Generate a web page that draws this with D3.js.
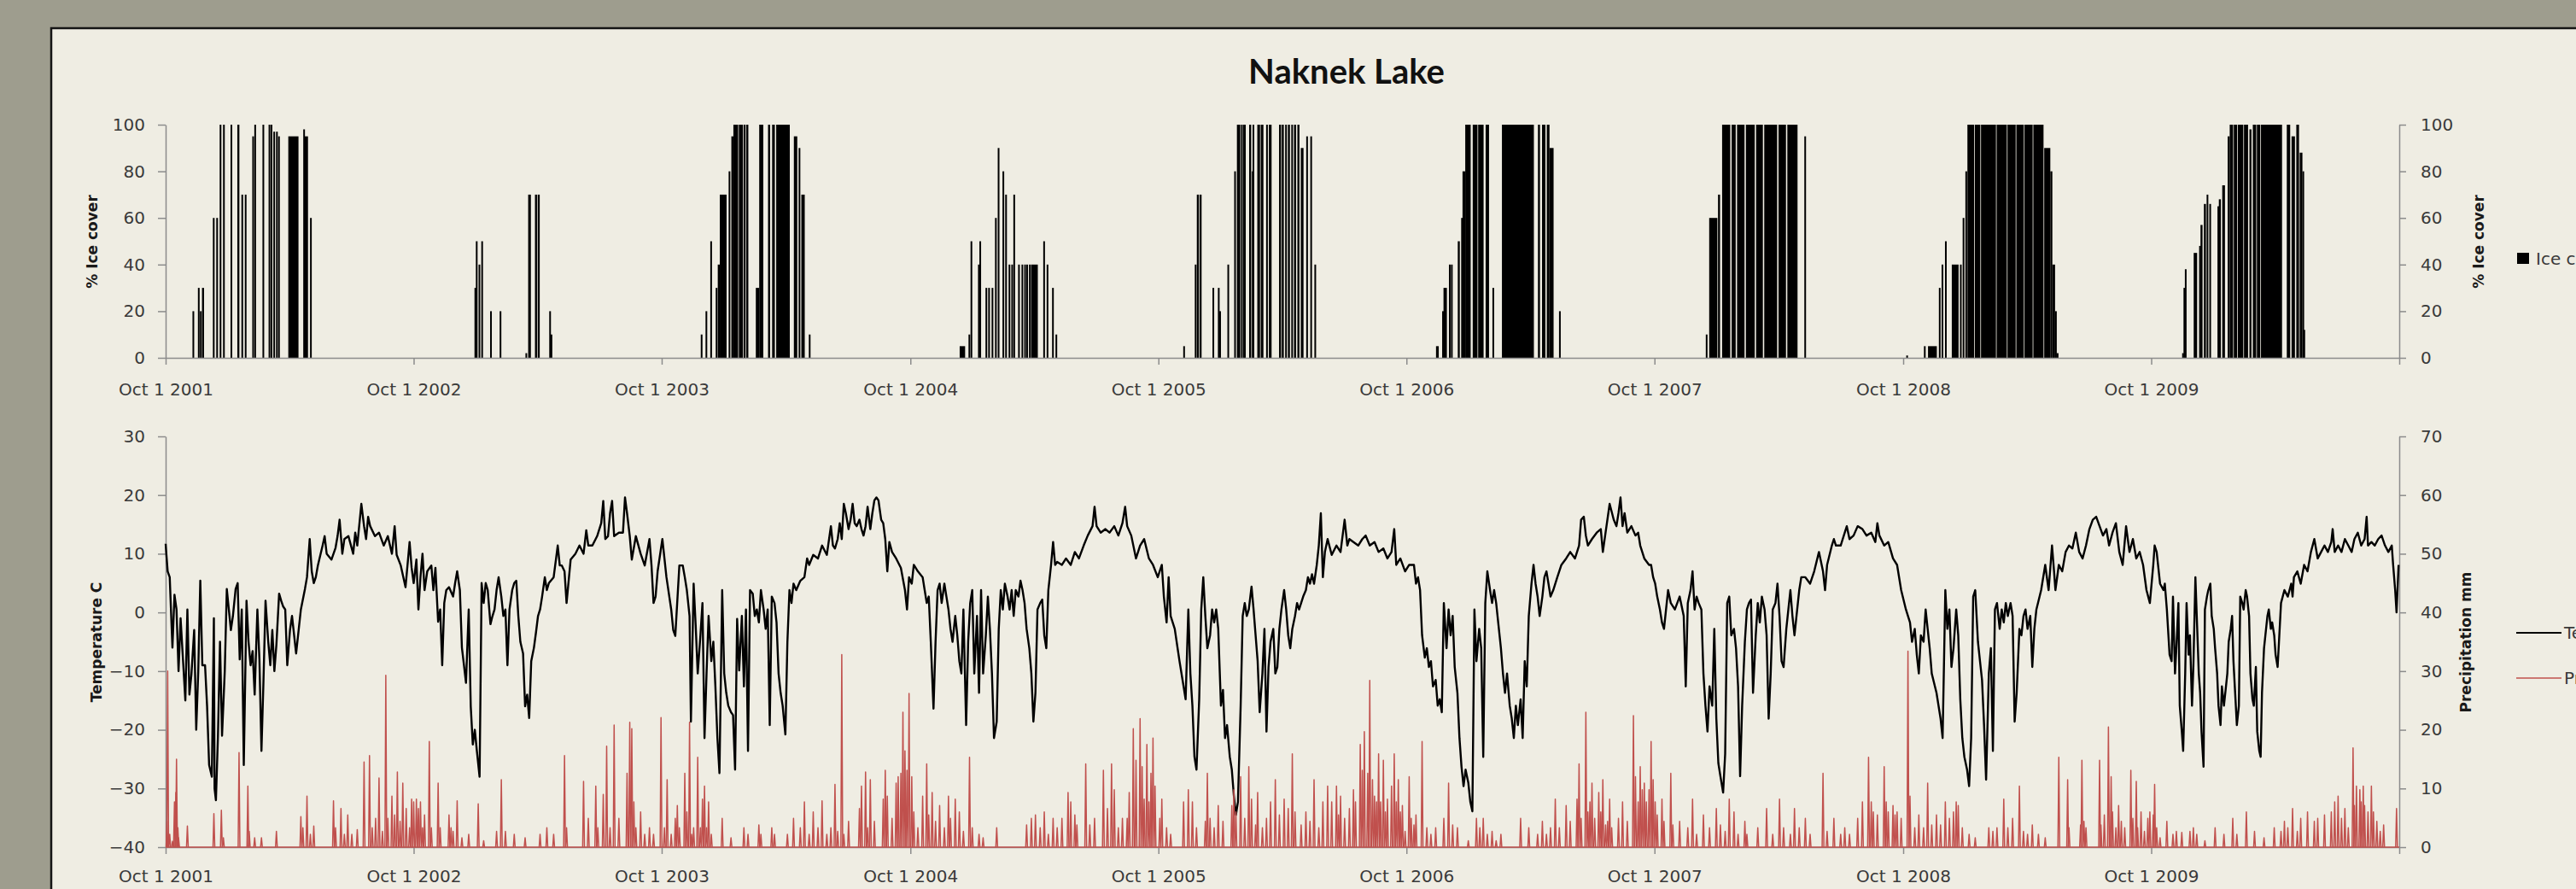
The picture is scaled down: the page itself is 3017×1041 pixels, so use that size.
<!DOCTYPE html>
<html>
<head>
<meta charset="utf-8">
<script src="https://cdn.jsdelivr.net/npm/d3@7"></script>
<style>
    html, body { margin: 0; padding: 0; background: #9e9d8e; overflow: hidden; }
    svg { display: block; }
</style>
</head>
<body>
<svg id="chart"></svg>
<script>
// tick values
var yearTicks = [2001, 2002, 2003, 2004, 2005, 2006, 2007, 2008, 2009, 2010];
var iceTicks = [0, 20, 40, 60, 80, 100];
var tempTicks = [-40, -30, -20, -10, 0, 10, 20, 30];
var precipTicks = [0, 10, 20, 30, 40, 50, 60, 70];

// ice cover runs: [first day after Oct 1 2001, number of days, % ice cover]
var iceRuns = [
    [40,1,20],[48,1,30],[51,1,20],[54,3,30],[70,1,60],[75,1,60],[80,1,100],[85,1,100],[96,1,100],[106,3,100],[112,1,70],[117,1,70],
    [128,1,95],[131,1,100],[143,1,100],[152,2,100],[155,2,100],[159,2,97],[163,1,97],[166,1,95],[181,15,95],[203,1,98],[205,5,95],[213,1,60],
    [455,1,30],[457,1,50],[461,1,40],[465,1,50],[478,1,20],[492,1,20],[530,1,2],[534,4,70],[544,3,70],[548,3,70],[565,1,20],[567,1,10],
    [788,1,10],[795,1,20],[802,1,50],[810,1,30],[813,3,40],[816,10,70],[829,1,80],[833,3,95],[836,7,100],[844,6,100],[851,3,100],[855,3,100],
    [869,5,30],[874,6,100],[887,3,100],[893,4,100],[899,20,100],[925,5,95],[932,1,90],[936,5,70],[947,1,10],
    [1169,8,5],[1182,1,10],[1185,1,50],[1196,1,40],[1198,1,50],[1207,1,30],[1211,1,30],[1216,1,30],[1221,1,60],[1225,1,90],[1232,1,80],
    [1236,1,70],[1241,1,40],[1245,1,40],[1248,1,70],[1255,1,40],[1260,1,40],[1264,1,40],[1267,1,40],[1271,1,40],[1274,10,40],[1292,1,50],
    [1297,1,40],[1305,1,30],[1310,1,10],
    [1498,1,5],[1515,1,40],[1518,3,70],[1522,3,70],[1541,1,30],[1549,1,30],[1551,1,20],[1563,1,40],[1573,1,80],[1577,5,100],[1583,2,100],
    [1586,4,100],[1595,3,100],[1599,1,80],[1600,2,100],[1607,4,100],[1612,4,100],[1620,2,100],[1624,4,100],[1639,3,100],[1643,3,100],
    [1648,2,100],[1652,3,100],[1657,2,100],[1661,3,100],[1666,3,100],[1671,4,90],[1679,1,95],[1685,1,95],[1691,1,40],
    [1870,4,5],[1879,1,20],[1881,5,30],[1889,1,40],[1892,1,40],[1902,3,50],[1907,1,60],[1909,4,80],[1913,8,100],[1924,7,100],[1932,8,100],
    [1943,5,100],[1953,1,30],[1967,47,100],[2020,3,100],[2026,5,100],[2033,4,100],[2037,6,90],[2051,1,20],
    [2267,1,10],[2272,12,60],[2285,3,70],[2291,12,100],[2305,6,100],[2313,11,100],[2326,13,100],[2341,10,100],[2353,19,100],[2374,11,100],
    [2387,15,100],[2412,1,95],
    [2562,1,1],[2588,1,5],[2594,13,5],[2610,1,30],[2614,1,40],[2619,1,50],[2629,10,40],[2641,1,40],[2645,1,60],[2649,1,80],[2652,10,100],
    [2663,8,100],[2672,22,100],[2695,15,100],[2711,12,100],[2724,11,100],[2736,12,100],[2749,15,100],[2765,9,90],[2774,3,80],[2777,4,40],
    [2781,2,20],[2783,3,2],
    [2968,2,2],[2970,1,30],[2972,1,38],[2985,5,45],[2993,1,48],[2995,3,57],[3000,3,66],[3004,1,70],[3008,1,66],[3020,1,65],[3022,3,68],
    [3027,4,74],[3035,3,95],[3038,5,100],[3044,5,100],[3050,8,100],[3059,6,100],[3067,3,98],[3072,5,100],[3078,5,100],[3084,31,100],
    [3122,5,100],[3129,5,95],[3136,4,100],[3141,4,88],[3145,1,80],[3146,3,12]
];

// air temperature: [day after Oct 1 2001, deg C]
var temperature = [
    [0,11.7],[1,10],[3,7],[6,6],[10,-6],[13,3],[16,0.5],[19,-10],[22,-1],[26,-9],[29,-15],[32,0.5],[35,-14],[38,-10.5],[42,-3],[45,-20],
    [48,-10],[51,5.4],[54,-9],[58,-9],[61,-16],[64,-26],[68,-28],[71,-1],[72,-30],[74,-32],[77,-21],[80,-5],[83,-21],[87,-10],[90,4],
    [93,0.5],[96,-3],[99,-0.6],[103,4],[106,5],[109,-8],[112,0.5],[115,-26],[119,2],[122,-5],[125,-9],[128,-6.6],[131,-14],[135,0.5],
    [138,-8],[141,-23.6],[144,-11.5],[147,2],[151,-5],[154,-9],[157,-3],[160,-10],[163,-5.5],[167,3.2],[170,2],[173,1],[176,0.5],[179,-9],
    [183,-3],[186,-0.6],[192,-7],[199,0.5],[205,4],[208,6],[212,12.5],[215,7],[218,5],[221,6],[224,8],[231,11.4],[234,13],[237,10],
    [244,9],[250,11],[253,13],[256,15.8],[260,10],[263,12.5],[269,13],[276,10],[279,13.6],[282,11.4],[288,18.5],[292,14.7],[295,12.5],
    [298,16.3],[301,14.7],[308,13],[314,13.6],[321,11.4],[327,13],[333,10],[337,14.7],[340,9.8],[346,8],[353,4.3],[359,12],[362,7.6],
    [365,5],[369,9],[372,0.5],[375,6],[378,10],[381,3.8],[385,7],[391,8],[394,3.8],[397,7.6],[401,-1.6],[404,0.5],[407,-9],[410,1.6],
    [413,3.8],[417,4.3],[423,2.7],[426,5],[429,7],[433,3.8],[436,-6],[439,-9],[442,-12],[446,0.5],[449,-16],[452,-22.5],[455,-20],
    [458,-23.6],[462,-28],[465,5],[468,1.6],[471,5],[474,3.8],[478,-2],[481,-0.6],[484,0.5],[487,3.8],[490,6],[494,2.7],[497,-0.6],
    [500,0.5],[503,-9],[506,0.5],[510,3.8],[513,5],[516,5.4],[519,-0.6],[522,-5],[526,-7],[529,-16],[532,-14],[535,-18],[538,-8.3],
    [542,-6],[545,-3.4],[548,-0.6],[551,0.5],[554,2.7],[558,6],[561,3.8],[564,5],[571,6],[577,11.4],[580,8],[583,8],[587,7],[590,1.6],
    [596,9],[603,10],[609,11.4],[615,10],[619,14],[622,11.4],[628,11.4],[635,13],[641,15.2],[644,19],[647,12.5],[651,13],[654,16.9],
    [657,19],[660,13],[667,13.6],[673,13.6],[676,19.6],[679,16.9],[683,13],[686,9],[692,13],[699,10],[705,8],[712,12.5],[715,8],[718,1.6],
    [721,2.7],[724,7],[731,12.5],[737,6],[744,0.5],[747,-3],[750,-4],[756,8],
    [761,8],[764,6],[767,3.8],[771,-0.6],[773,-18.6],[777,4.9],[780,-2.2],[783,-10.4],[787,-3.9],[790,1.6],[793,-21.4],[796,-10.4],
    [799,-0.6],[803,-8.3],[806,-5],[809,-12.6],[812,-21.4],[815,-27.4],[819,3.8],[822,-10.4],[825,-13.7],[828,-15.9],[832,-17],[835,-17.5],
    [838,-26.8],[841,-1.1],[844,-9.9],[848,-0.6],[851,-12.6],[854,0.5],[857,-23.6],[860,3.8],[864,3.2],[867,-0.6],[870,0.5],[873,-1.7],
    [876,3.8],[880,0.5],[883,-2.8],[886,0.5],[889,-19.2],[892,2.7],[896,1.6],[899,-1.7],[902,-10.4],[905,-13.7],[908,-15.9],[912,-20.8],
    [915,-5],[918,3.8],[921,1.6],[924,4.9],[928,3.8],[934,5.4],[940,6],[944,9.2],[947,8.1],[953,9.8],[960,9.2],[966,11.4],[973,9.8],
    [979,14.7],[982,11.4],[985,10.9],[989,12.5],[992,15.2],[995,12.5],[998,18.5],[1001,16.9],[1005,14.2],[1008,15.8],[1011,18.5],
    [1014,15.2],[1017,14.7],[1021,15.8],[1024,14.2],[1027,13.1],[1030,14.7],[1033,18],[1037,14.2],[1040,16.9],[1043,19.1],[1046,19.6],
    [1049,19.1],[1053,15.8],[1056,15.2],[1059,12.5],[1062,7],[1065,12],[1069,10.3],[1075,9.2],[1082,7.6],[1088,3.8],[1091,0.5],[1094,6],
    [1098,4.9],[1101,8.1],[1107,7],[1114,6],[1117,3.8],[1120,1.6],[1123,2.7],[1126,-5],[1130,-16.4],[1133,-5],[1136,3.8],[1139,4.9],
    [1142,1.6],[1146,4.9],[1149,2.7],[1152,0.5],[1155,-2.8],[1158,-5],[1162,-0.6],[1165,-3.9],[1168,-8.3],[1171,-10.4],[1174,0.5],
    [1178,-19.2],[1181,-5],[1184,1.6],[1187,3.8],[1190,-10.4],[1194,-0.6],[1197,-13.7],[1200,3.8],[1203,-10.4],[1207,-3.9],[1210,2.7],
    [1213,-2.8],[1216,-10.4],[1219,-21.4],[1223,-18.6],[1226,-2.8],[1229,3.8],[1232,0.5],[1235,4.9],[1239,2.7],[1242,0.5],[1245,3.8],
    [1248,-0.6],[1251,3.8],[1255,2.7],[1258,5.4],[1261,3.8],[1264,1.6],[1267,-2.8],[1271,-6.1],[1274,-10.4],[1277,-18.6],[1280,-13.7],
    [1283,0.5],[1287,1.6],[1290,2.2],[1293,-3.9],[1296,-6.1],[1299,3.8],[1303,8.1],[1306,12],[1309,8.1],[1312,8.6],[1319,8.1],[1325,9.2],
    [1332,8.1],[1338,10.3],[1344,9.2],[1351,11.4],[1357,13.1],[1364,14.7],[1367,18],[1370,14.7],[1376,13.6],[1383,14.2],[1389,13.6],
    [1396,14.7],[1402,13.1],[1408,15.2],[1412,18],[1415,14.7],[1421,13.1],[1428,9.2],[1434,11.4],[1440,12.5],[1447,9.2],[1453,8.1],
    [1460,6],[1466,8.1],[1469,2.7],[1473,-1.7],[1476,6],[1479,-0.6],[1485,-2.8],[1492,-8.3],[1498,-12.6],[1501,-14.8],[1505,0.5],
    [1508,-10.4],[1511,-15.9],[1514,-24.6],[1517,-26.8],[1521,-14.8],[1524,0.5],[1527,6],[1530,-0.6],[1533,-6.1],[1537,-3.9],[1540,0.5],
    [1543,-1.7],[1546,0.5],[1549,-2.8],[1553,-15.9],[1556,-13.2],[1559,-21.4],[1562,-19.2],[1566,-24.6],[1569,-26.8],[1572,-31.2],
    [1575,-34.5],[1578,-32.3],[1582,-15.9],[1585,-0.6],[1588,1.6],[1591,-0.6],[1594,0.5],[1598,4.4],[1601,0.5],[1604,-3.9],[1607,-8.3],
    [1610,-17],[1614,-10.4],[1617,-2.8],[1620,-20.3],[1623,-9.3],[1626,-5],[1630,-2.8],[1633,-10.4],[1636,-9.3],[1639,-2.8],[1642,0.5],
    [1646,3.8],[1649,0.5],[1652,-3.9],[1655,-6.1],[1658,-2.8],[1662,-0.6],[1665,1.6],[1668,0.5],[1671,1.6],[1674,2.7],[1678,3.8],[1681,6],
    [1684,4.9],[1687,6.5],[1690,4.9],[1694,8.1],[1697,11.4],[1700,16.9],[1703,6],[1706,10.3],[1710,12.5],[1716,9.8],[1723,11.4],
    [1729,10.3],[1735,15.8],[1739,11.4],[1742,12.5],[1748,12],[1755,11.4],[1761,12.5],
    [1766,13.1],[1772,11.4],[1779,12],[1785,10.3],[1792,10.9],[1798,9.2],[1804,10.3],[1808,14.2],[1811,8.1],[1817,9.2],[1824,7],[1830,8.1],
    [1837,8.1],[1840,4.9],[1843,6],[1846,3.8],[1849,-3.9],[1853,-7.7],[1856,-6.1],[1859,-9.3],[1862,-8.3],[1865,-12.6],[1869,-11.5],
    [1872,-15.9],[1875,-14.8],[1878,-17],[1881,1.6],[1885,-6.1],[1888,0.5],[1891,-3.9],[1894,-0.6],[1897,-9.3],[1901,-13.7],[1904,-21.4],
    [1907,-26.3],[1910,-29.6],[1913,-26.8],[1917,-29],[1920,-32.3],[1923,-33.9],[1926,0.5],[1929,-8.3],[1933,-2.8],[1936,-6.1],[1939,-24.6],
    [1942,1.6],[1945,7],[1949,3.8],[1952,1.6],[1955,3.8],[1958,1.6],[1962,-2.8],[1965,-6.1],[1968,-10.4],[1971,-13.7],[1974,-10.4],
    [1978,-15.9],[1981,-18.1],[1984,-21.4],[1987,-15.9],[1990,-19.2],[1994,-14.8],[1997,-21.4],[2000,-8.3],[2003,-12.6],[2006,-0.6],
    [2010,4.9],[2013,8.1],[2016,4.9],[2019,2.7],[2022,-0.6],[2026,2.7],[2029,6],[2032,7],[2035,4.9],[2038,2.7],[2042,3.8],[2048,6],[2054,8.1],
    [2061,9.2],[2067,10.3],[2074,9.2],[2080,11.4],[2083,15.8],[2087,16.3],[2090,13.1],[2093,11.4],[2099,12.5],[2106,13.6],[2112,14.2],
    [2115,10.3],[2119,13.6],[2125,18.5],[2131,15.8],[2135,14.7],[2138,16.9],[2141,19.6],[2144,14.7],[2147,16.9],[2151,13.6],[2157,14.7],
    [2163,13.1],[2167,13.6],[2170,11.4],[2176,9.2],[2183,8.1],[2186,8.1],[2189,6],[2192,4.9],[2195,2.7],[2199,0.5],[2202,-1.7],[2205,-2.8],
    [2208,0.5],[2211,3.8],[2215,1.6],[2221,0.5],[2228,2.7],[2234,-0.6],[2237,-12.6],[2240,1.6],[2244,3.8],[2247,7],[2250,0.5],[2253,2.7],
    [2256,1.6],[2260,0.5],[2263,-10.4],[2266,-15.9],[2269,-20.3],[2272,-12.6],[2276,-15.9],[2279,-2.8],[2282,-18.1],[2285,-25.7],
    [2288,-27.9],[2292,-30.7],[2295,-24.1],[2298,1.6],[2301,2.7],[2304,-3.9],[2308,-2.8],[2311,-6.1],[2314,-12.6],[2317,-27.9],[2320,-15.9],
    [2324,-5],[2327,0.5],[2330,1.6],[2333,2.2],[2336,-13.7],[2340,-3.9],[2343,1.6],[2346,-1.7],[2349,2.7],[2353,0.5],[2356,-3.9],
    [2359,-18.1],[2362,-10.4],[2365,0.5],[2369,1.6],[2372,4.9],[2375,-0.6],[2378,-8.3],[2381,-9.3],[2385,-2.8],[2388,0.5],[2391,3.8],
    [2394,-0.6],[2397,-3.9],[2401,0.5],[2404,3.8],[2407,6],[2413,6],[2420,4.9],[2426,7],[2433,10.3],[2439,7],[2442,3.8],[2445,8.1],
    [2452,11.4],[2455,12.5],[2458,11.4],[2465,11.4],[2471,13.6],[2474,14.7],[2478,12.5],[2484,13.1],[2490,14.7],[2497,14.2],[2503,13.1],
    [2510,13.6],[2516,12],[2519,15.2],[2522,13.1],[2529,11.4],[2535,12],[2542,9.2],[2548,8.1],[2554,3.8],[2561,0.5],[2567,-1.7],[2570,-5],
    [2574,-2.8],[2577,-7.2],[2580,-10.4],[2583,-3.9],[2587,-5],[2590,0.5],[2593,-2.8],[2596,-6.1],[2599,-10.4],[2606,-13.7],[2612,-18.1],
    [2615,-21.4],[2619,3.8],[2622,-2.8],[2625,0.5],[2628,-9.3],[2631,-6.1],[2635,0.5],[2638,-3.9],[2641,-14.8],[2644,-21.4],[2647,-24.6],
    [2651,-26.8],[2654,-29.6],[2657,-21.4],[2660,2.7],[2663,3.8],[2667,-5],[2670,-8.3],[2673,-11.5],[2676,-19.2],[2679,-28.5],[2683,-10.4],
    [2686,-6.1],[2689,-23.6],[2692,0.5],[2695,1.6],[2699,-2.8],[2702,0.5],[2705,-1.7],[2708,1.6],[2711,-0.6],[2715,1.6],[2718,-0.6],
    [2721,-18.6],[2724,-13.7],[2728,-2.8],[2731,-3.9],[2734,-0.6],[2737,0.5],[2740,-2.8],[2744,-0.6],[2747,-9.3],[2750,-2.8],[2753,0.5],
    [2760,3.8],[2766,8.1],
    [2771,3.8],[2776,11.4],[2779,7],[2781,3.8],[2786,8.1],[2791,7],[2796,10.3],[2801,11.4],[2806,10.9],[2811,13.6],[2816,10.3],[2821,9.2],
    [2826,11.4],[2831,14.2],[2836,15.8],[2841,16.3],[2846,14.7],[2851,13.1],[2856,14.2],[2860,11.4],[2865,13.6],[2870,15.2],[2875,10.3],
    [2880,8.1],[2885,14.7],[2890,10.3],[2895,12.5],[2900,9.2],[2905,10.3],[2910,8.1],[2915,3.8],[2920,1.6],[2925,8.1],[2927,11.4],
    [2930,10.3],[2935,4.9],[2940,3.8],[2942,4.9],[2945,0.5],[2949,-7.2],[2952,-8.3],[2954,2.7],[2957,-10.4],[2959,-6.1],[2962,1.6],
    [2964,-15.9],[2967,-20.3],[2969,-23.6],[2972,-10.4],[2974,1.6],[2977,-7.2],[2979,-3.9],[2982,-15.9],[2984,-9.3],[2987,6],[2989,-0.6],
    [2992,-10.4],[2994,-13.7],[2996,-20.3],[2999,-26.3],[3001,0.5],[3004,2.7],[3006,3.8],[3009,4.9],[3011,-0.6],[3014,-2.8],[3016,-6.1],
    [3019,-10.4],[3021,-15.9],[3024,-19.2],[3026,-12.6],[3029,-15.9],[3031,-13.7],[3034,-10.4],[3036,-5],[3039,-2.8],[3041,-0.6],
    [3043,-8.3],[3046,-14.8],[3048,-19.2],[3051,-15.9],[3053,2.7],[3056,1.6],[3058,0.5],[3061,3.8],[3063,2.7],[3066,-0.6],[3068,-10.4],
    [3071,-14.8],[3073,-15.9],[3076,-9.3],[3078,-20.3],[3081,-23.6],[3083,-24.6],[3085,-13.7],[3088,-6.1],[3090,-3.9],[3093,-0.6],
    [3095,0.5],[3098,-2.8],[3100,-1.7],[3103,-3.9],[3105,-7.2],[3108,-9.3],[3110,-5],[3113,1.6],[3118,3.8],[3123,2.7],[3128,4.9],
    [3130,2.7],[3132,6],[3137,7],[3142,4.9],[3147,8.1],[3152,7],[3157,10.3],[3162,12.5],[3167,9.2],[3172,10.3],[3177,11.4],[3182,10.3],
    [3187,12],[3189,14.2],[3192,10.3],[3197,11.4],[3202,10.3],[3207,12.5],[3212,11.4],[3217,10.3],[3221,12.5],[3226,13.6],[3231,11.4],
    [3236,12.5],[3239,16.3],[3241,11.4],[3246,12],[3251,11.4],[3256,12.5],[3261,13.1],[3266,11.4],[3271,10.3],[3276,11.4],[3278,8.1],
    [3281,3.8],[3283,0],[3286,8.1]
];

// precipitation events: [day after Oct 1 2001, mm]
var precipitation = [
    [2,4.4],[3,30],[6,2.2],[10,1],[13,7.7],[15,9.3],[16,15],[18,3.3],[19,1.6],[32,3.6],[71,5.7],[82,6.3],[85,1.6],[108,16.1],[121,10.4],
    [123,2.7],[131,1.6],[141,1.6],[163,2.7],[199,5.2],[202,3.3],[208,8.7],[213,2.2],[218,3.6],[247,7.9],[250,3.3],[258,6.6],[263,2.2],
    [268,5.5],[274,2.2],[282,3],[292,14.5],[300,15.6],[304,3.3],[309,4.9],[314,11.8],[319,2.7],[324,29.3],[327,4.9],[333,8.7],[337,5.5],
    [341,12.8],[345,4.4],[349,10.9],[354,6.6],[359,3.3],[362,8.2],[365,7.7],[369,8.2],[372,6.6],[375,7.7],[378,3.3],[381,5.5],[388,18],
    [391,3.3],[401,10.9],[404,3.3],[417,5.5],[420,3.3],[423,2.7],[429,7.9],[436,1.6],[446,2.2],[460,7.4],[468,1.1],[487,2.7],[494,11.5],
    [500,2.7],[513,2.2],[529,1.6],[551,2.2],[561,3.3],[571,2.2],[587,15.6],[590,3.3],[615,11.2],[622,4.9],[633,10.4],[636,3.3],[644,9],
    [649,17.2],[654,3.3],[660,20.8],[667,4.9],[679,12.6],[683,21.3],[686,20.2],[689,7.7],[692,3.3],[699,6],[705,2.2],[712,3.3],[718,2.2],
    [729,22.1],[734,3.3],[738,11.5],[744,2.2],[750,4.9],[753,7.1],[756,3.3],
    [764,12.6],[767,6],[771,21.3],[774,2.2],[777,3.3],[783,15.3],[787,3.3],[790,8.2],[793,10.4],[796,3.3],[799,7.7],[803,2.2],[819,4.9],
    [832,1.6],[851,3.3],[857,2.2],[873,3.8],[876,2.2],[892,3.3],[896,2.2],[915,2.2],[924,4.9],[934,3.3],[940,7.7],[947,2.2],[953,6],
    [960,3.3],[966,7.9],[973,2.2],[979,3.3],[985,10.7],[989,2.7],[995,32.8],[998,2.2],[1005,4.4],[1021,6.6],[1024,10.4],[1030,12.8],
    [1033,3.3],[1037,11.5],[1043,4.4],[1056,8.2],[1059,13.1],[1062,8.7],[1069,4.9],[1075,10.9],[1078,12],[1082,12.6],[1085,23],[1088,16.4],
    [1091,13.1],[1094,26.2],[1098,12],[1101,6],[1107,3.3],[1114,8.7],[1120,14.2],[1123,5.5],[1128,9.3],[1133,4.4],[1139,7.1],[1146,3.3],
    [1152,8.7],[1155,4.9],[1162,8.2],[1168,6],[1174,2.7],[1183,15.3],[1187,3.3],[1197,2.2],[1203,1.6],[1223,3.3],[1267,3.8],[1274,4.9],
    [1280,5.5],[1287,3.3],[1293,6],[1299,2.2],[1306,4.9],[1312,3.3],[1319,4.9],[1328,9.3],[1332,7.7],[1338,5.5],[1341,3.8],[1354,14.2],
    [1360,3.8],[1367,4.9],[1380,13.1],[1386,6.6],[1392,14.2],[1396,9.8],[1402,3.3],[1408,4.9],[1415,4.9],[1418,9.3],[1424,20.2],[1428,14.8],
    [1434,21.9],[1437,13.7],[1440,8.2],[1444,17.5],[1447,7.7],[1450,12.6],[1453,18.6],[1456,10.4],[1463,4.9],[1466,8.2],[1473,3.3],
    [1479,2.2],[1498,7.7],[1505,9.8],[1511,7.7],[1517,3.3],[1530,4.4],[1533,12.6],[1537,4.9],[1543,3.3],[1549,7.1],[1556,4.4],[1569,7.1],
    [1572,9.8],[1575,6],[1582,12],[1588,4.9],[1594,13.7],[1598,8.2],[1604,3.8],[1607,9.3],[1614,3.3],[1620,4.9],[1626,7.7],[1633,11.5],
    [1639,5.5],[1646,8.2],[1652,6.6],[1658,15.9],[1662,6],[1671,3.8],[1678,6],[1684,4.4],[1690,11.5],[1697,3.3],[1703,7.7],[1710,10.4],
    [1716,7.7],[1723,10.4],[1726,5.5],[1729,8.7],[1735,4.9],[1742,6.6],[1748,9.8],[1751,7.7],[1758,17.5],[1761,13.1],[1764,19.7],
    [1769,12.6],[1772,28.4],[1776,11.5],[1779,8.7],[1782,7.7],[1785,15.9],[1788,7.7],[1792,14.8],[1795,6],[1798,8.2],[1804,10.4],
    [1808,15.9],[1811,7.7],[1814,11.5],[1817,6],[1820,7.1],[1824,2.7],[1830,12],[1833,4.9],[1837,3.8],[1840,5.5],[1849,18],[1856,3.3],
    [1862,2.2],[1869,3.3],[1881,4.9],[1888,10.9],[1894,3.8],[1901,3.3],[1917,1.1],[1929,4.9],[1934,3.3],[1939,4.9],[1945,2.2],[1952,2.7],
    [1958,1.1],[1965,2.2],[1994,4.9],[2006,3.3],[2019,2.2],[2026,4.4],[2032,2.2],[2038,3.3],[2045,8.2],[2051,3.3],[2061,7.1],[2067,4.4],
    [2077,8.2],[2080,14.2],[2083,4.9],[2090,23],[2093,6],[2096,7.7],[2099,10.9],[2103,4.9],[2109,9.3],[2112,6],[2115,11.5],[2119,3.8],
    [2122,4.4],[2125,8.2],[2128,3.3],[2138,4.9],[2144,7.7],[2151,4.4],[2160,22.4],[2163,12],[2167,7.7],[2170,13.7],[2173,9.8],[2176,10.9],
    [2179,7.7],[2183,9.8],[2186,18],[2189,11.5],[2192,7.7],[2195,5.5],[2202,8.2],[2205,4.4],[2215,12.6],[2218,3.8],[2228,4.4],[2240,3.3],
    [2247,8.2],[2253,2.2],[2263,5.5],[2272,3.3],[2282,6.6],[2288,3.8],[2295,2.7],[2301,8.2],[2308,6],[2314,2.2],[2324,4.4],[2327,2.2],
    [2343,3.3],[2356,6.6],[2365,2.2],[2375,8.2],[2381,3.3],[2391,2.2],[2397,6.6],[2404,3.3],[2413,4.9],[2420,2.2],[2439,12.6],[2445,2.7],
    [2455,4.9],[2465,2.2],[2471,3.3],[2478,2.2],[2490,4.9],[2497,7.7],[2506,15.3],[2510,7.7],[2513,6],[2519,5.5],[2529,13.7],[2532,7.7],
    [2535,6],[2542,7.1],[2545,5.5],[2548,6],[2554,4.9],[2564,33.4],[2567,8.7],[2574,3.3],[2580,5.5],[2587,3.3],[2593,10.9],[2599,3.8],
    [2606,5.5],[2612,3.8],[2619,7.7],[2625,4.9],[2631,6],[2635,7.7],[2638,7.1],[2644,3.3],[2654,2.2],[2663,1.6],[2683,3.3],[2689,2.7],
    [2695,3.3],[2705,8.2],[2711,3.3],[2718,4.9],[2728,10.4],[2734,2.7],[2740,2.2],[2747,3.8],[2756,2.2],[2766,1.6],
    [2786,15.3],[2799,11.5],[2801,3.3],[2818,3.8],[2820,14.8],[2823,4.4],[2826,3.3],[2846,14.8],[2848,3.8],[2853,5.5],[2859,20.5],
    [2863,12],[2865,6],[2870,3.3],[2874,7.1],[2878,4.4],[2883,3.3],[2892,13.1],[2895,4.9],[2900,11.2],[2902,3.3],[2907,6],[2912,2.7],
    [2917,4.9],[2920,6],[2925,5.5],[2927,10.7],[2930,3.3],[2935,1.6],[2945,4.4],[2954,2.2],[2959,2.7],[2967,2.5],[2979,2.7],[2984,3.3],
    [2989,2.2],[3001,1.1],[3016,3.3],[3029,2.2],[3042,4.9],[3048,2.2],[3062,6],[3074,2.7],[3088,1.6],[3103,3.3],[3113,2.7],[3118,4.4],
    [3123,3.3],[3130,6.6],[3137,2.7],[3142,4.9],[3152,6],[3162,4.4],[3167,4.9],[3177,5.5],[3187,6],[3192,7.7],[3197,8.7],[3202,4.9],
    [3207,6.6],[3212,3.3],[3219,16.9],[3221,7.1],[3224,10.4],[3229,9.8],[3231,7.7],[3234,10.4],[3236,7.1],[3241,6],[3246,10.4],[3249,6],
    [3254,4.4],[3259,2.7],[3264,3.8],[3283,6.6]
];

// svg size matches the window
var svgWidth = 3017;
var svgHeight = 1041;

var svg = d3.select("#chart")
    .attr("width", svgWidth)
    .attr("height", svgHeight);

// outer backdrop and chart area
svg.append("rect")
    .attr("width", svgWidth)
    .attr("height", svgHeight)
    .attr("fill", "#9e9d8e");

svg.append("rect")
    .attr("x", 60)
    .attr("y", 33)
    .attr("width", 3100)
    .attr("height", 1100)
    .attr("fill", "#efede3")
    .attr("stroke", "#151515")
    .attr("stroke-width", 2.5);

// title
svg.append("text")
    .attr("x", 1577)
    .attr("y", 98)
    .attr("text-anchor", "middle")
    .style("font-family", "Lato, 'Open Sans', sans-serif")
    .style("font-weight", "bold")
    .style("font-size", "40px")
    .attr("fill", "#111")
    .text("Naknek Lake");

// scales
var t0 = Date.UTC(2001, 9, 1);
function dayDate(d) { return new Date(t0 + d * 864e5); }

var x = d3.scaleUtc()
    .domain([dayDate(0), new Date(Date.UTC(2010, 9, 1))])
    .range([194, 2810]);

var yIce = d3.scaleLinear().domain([0, 100]).range([419, 146]);
var yTemp = d3.scaleLinear().domain([-40, 30]).range([992, 511]);
var yPrec = d3.scaleLinear().domain([0, 70]).range([992, 511]);

var yearDates = yearTicks.map(y => new Date(Date.UTC(y, 9, 1)));

// shared axis look
function styleAxis(g) {
    g.select(".domain").attr("stroke", "#8c8c8c").attr("stroke-width", 1.5);
    g.selectAll(".tick line").attr("stroke", "#8c8c8c").attr("stroke-width", 1.5);
    g.selectAll(".tick text")
        .attr("fill", "#3a3a3a")
        .style("font-family", "'DejaVu Sans', Verdana, sans-serif")
        .style("font-size", "20px");
}

function xAxis(pad) {
    return d3.axisBottom(x)
        .tickValues(yearDates)
        .tickSize(8)
        .tickSizeOuter(0)
        .tickPadding(pad)
        .tickFormat(d => d.getUTCFullYear() < 2010 ? "Oct 1 " + d.getUTCFullYear() : "");
}

// ice cover bars
svg.append("g")
    .selectAll("rect")
    .data(iceRuns)
    .enter()
    .append("rect")
    .attr("x", d => x(dayDate(d[0] - 0.5)))
    .attr("width", d => Math.max(2, x(dayDate(d[0] + d[1] - 0.5)) - x(dayDate(d[0] - 0.5))))
    .attr("y", d => yIce(d[2]))
    .attr("height", d => yIce(0) - yIce(d[2]))
    .attr("fill", "#000");

// top axes
svg.append("g").attr("transform", "translate(0,419)").call(xAxis(22)).call(styleAxis);
svg.append("g").attr("transform", "translate(194,0)")
    .call(d3.axisLeft(yIce).tickValues(iceTicks).tickSize(9).tickSizeOuter(0).tickPadding(15))
    .call(styleAxis);
svg.append("g").attr("transform", "translate(2810,0)")
    .call(d3.axisRight(yIce).tickValues(iceTicks).tickSize(8).tickSizeOuter(0).tickPadding(17))
    .call(styleAxis);

// bottom axes
svg.append("g").attr("transform", "translate(0,992)").call(xAxis(19)).call(styleAxis);
svg.append("g").attr("transform", "translate(194,0)")
    .call(d3.axisLeft(yTemp).tickValues(tempTicks).tickSize(9).tickSizeOuter(0).tickPadding(15))
    .call(styleAxis);
svg.append("g").attr("transform", "translate(2810,0)")
    .call(d3.axisRight(yPrec).tickValues(precipTicks).tickSize(8).tickSizeOuter(0).tickPadding(17))
    .call(styleAxis);

// temperature line
var tempLine = d3.line()
    .x(d => x(dayDate(d[0])))
    .y(d => yTemp(d[1]));

svg.append("path")
    .datum(temperature)
    .attr("d", tempLine)
    .attr("fill", "none")
    .attr("stroke", "#000")
    .attr("stroke-width", 2.4)
    .attr("stroke-linejoin", "round");

// precipitation: red baseline plus a narrow spike per event
var precLine = d3.line()
    .x(d => x(dayDate(d[0])))
    .y(d => yPrec(d[1]));

var precipGroup = svg.append("g")
    .attr("fill", "none")
    .attr("stroke", "#c0504d")
    .attr("stroke-width", 1.5)
    .attr("stroke-linejoin", "round");

precipGroup.append("path").attr("d", precLine([[0, 0], [3287, 0]]));

precipGroup.selectAll(".spike")
    .data(precipitation)
    .enter()
    .append("path")
    .classed("spike", true)
    .attr("d", d => precLine([[d[0] - 1.3, 0], [d[0], d[1]], [d[0] + 1.3, 0]]));

// axis titles
var titles = [
    { text: "% Ice cover", x: 108, y: 283 },
    { text: "% Ice cover", x: 2903, y: 283 },
    { text: "Temperature C", x: 113, y: 752 },
    { text: "Precipitation mm", x: 2888, y: 752 }
];

svg.selectAll(".ytitle")
    .data(titles)
    .enter()
    .append("text")
    .classed("ytitle", true)
    .attr("transform", d => `translate(${d.x},${d.y}) rotate(-90)`)
    .attr("text-anchor", "middle")
    .attr("dy", "0.35em")
    .style("font-family", "'DejaVu Sans', Verdana, sans-serif")
    .style("font-weight", "bold")
    .style("font-size", "17px")
    .attr("fill", "#1a1a1a")
    .text(d => d.text);

// legends (cut by the right edge, as in the source picture)
var legendFont = "'DejaVu Sans', Verdana, sans-serif";

svg.append("rect")
    .attr("x", 2948).attr("y", 296)
    .attr("width", 14).attr("height", 13)
    .attr("fill", "#000");
svg.append("text")
    .attr("x", 2970).attr("y", 310)
    .style("font-family", legendFont).style("font-size", "20px")
    .attr("fill", "#3a3a3a")
    .text("Ice cover");

svg.append("line")
    .attr("x1", 2947).attr("x2", 3000).attr("y1", 741).attr("y2", 741)
    .attr("stroke", "#000").attr("stroke-width", 2);
svg.append("text")
    .attr("x", 3003).attr("y", 748)
    .style("font-family", legendFont).style("font-size", "20px")
    .attr("fill", "#3a3a3a")
    .text("Temperature C");

svg.append("line")
    .attr("x1", 2947).attr("x2", 3000).attr("y1", 794).attr("y2", 794)
    .attr("stroke", "#c0504d").attr("stroke-width", 1.5);
svg.append("text")
    .attr("x", 3003).attr("y", 801)
    .style("font-family", legendFont).style("font-size", "20px")
    .attr("fill", "#3a3a3a")
    .text("Precipitation mm");
</script>
</body>
</html>
